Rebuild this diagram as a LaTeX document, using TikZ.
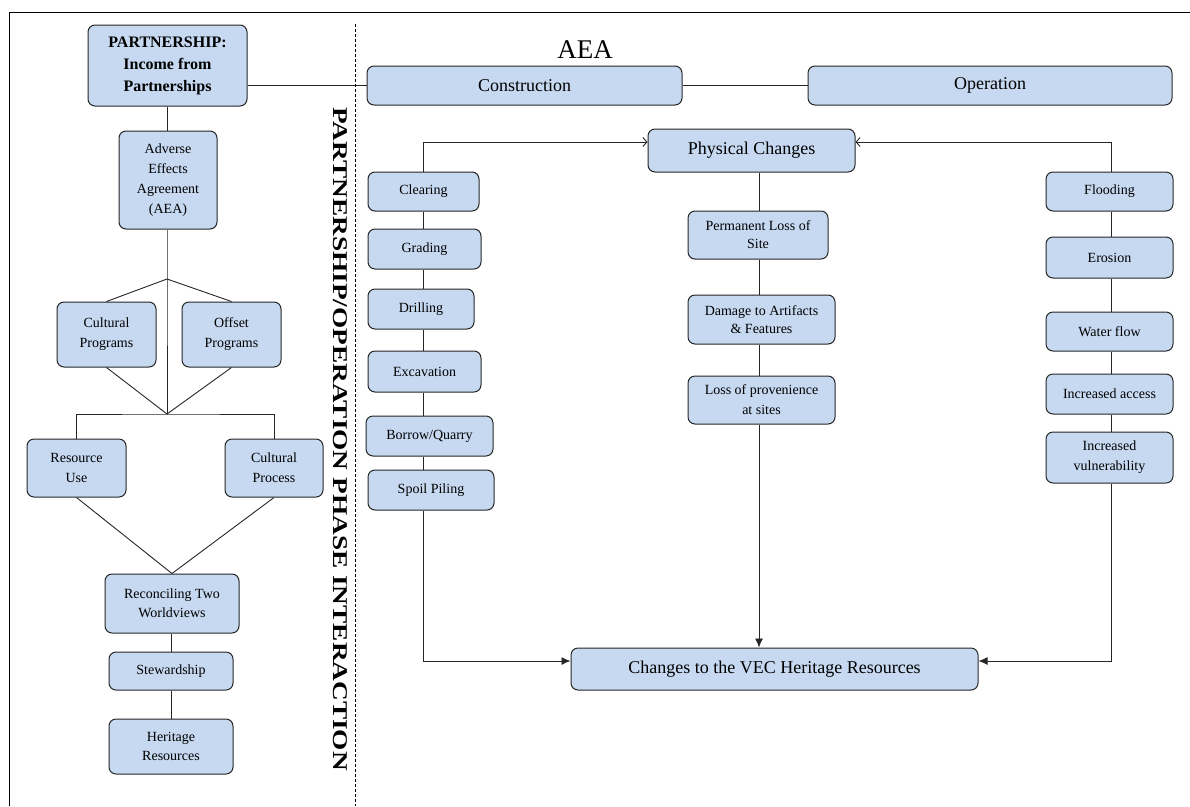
\documentclass[tikz,border=0pt]{standalone}
\usepackage{fontspec}
\setmainfont{Liberation Serif}
\usetikzlibrary{arrows.meta,backgrounds}
\definecolor{boxblue}{HTML}{C6D9F1}
\tikzset{
  box/.style={draw=black!85, fill=boxblue, line width=1pt, rounded corners=7pt,
    inner sep=0pt, align=center, font=\fontsize{14}{19}\selectfont},
  bigbox/.style={box, font=\fontsize{18}{22}\selectfont},
  conn/.style={line width=0.9pt, draw=black!85},
  openarr/.style={conn, -{Straight Barb[length=4pt,width=9pt]}},
  fillarr/.style={conn, -{Latex[length=9pt,width=8pt]}},
}
\begin{document}
\begin{tikzpicture}[x=1pt,y=-1pt]
\useasboundingbox (0,0) rectangle (1190,806);
% frame
\draw[line width=1pt] (9,806) -- (9,12) -- (1190,12);
\draw[dashed, line width=0.8pt, dash pattern=on 3pt off 2pt] (355,24) -- (355,806);
% rotated title
\node[rotate=-90, font=\bfseries\fontsize{21}{21}\selectfont] (title) at (340,439)
  {\scalebox{1.3}[1]{PARTNERSHIP/OPERATION PHASE INTERACTION}};
% left column
\node[box, font=\bfseries\fontsize{16}{22}\selectfont, minimum width=159pt, minimum height=81pt] (partner) at (167.5,65.5) {PARTNERSHIP:\\Income from\\Partnerships};
\node[box, minimum width=98pt, minimum height=98pt, font=\fontsize{14}{20}\selectfont] (aea) at (168,180) {Adverse\\Effects\\Agreement\\(AEA)};
\node[box, minimum width=99pt, minimum height=65pt, font=\fontsize{14}{20}\selectfont] (culprog) at (106.5,334.5) {Cultural\\Programs};
\node[box, minimum width=99pt, minimum height=65pt, font=\fontsize{14}{20}\selectfont] (offset) at (231.5,334.5) {Offset\\Programs};
\node[box, minimum width=99pt, minimum height=58pt, font=\fontsize{14}{20}\selectfont] (resuse) at (76.5,468) {Resource\\Use};
\node[box, minimum width=98pt, minimum height=58pt, font=\fontsize{14}{20}\selectfont] (culproc) at (274,468) {Cultural\\Process};
\node[box, minimum width=134pt, minimum height=59pt] (recon) at (172,603.5) {Reconciling Two\\Worldviews};
\node[box, minimum width=124pt, minimum height=38pt] (stew) at (171,671) {Stewardship};
\node[box, minimum width=124pt, minimum height=55pt] (herit) at (171,746.5) {Heritage\\Resources};
% right: header
\node[font=\fontsize{27}{27}\selectfont] (aeatitle) at (585,50) {AEA};
\node[bigbox, minimum width=315pt, minimum height=39pt] (constr) at (524.5,85.5) {Construction};
\node[bigbox, minimum width=364pt, minimum height=39pt] (oper) at (990,85.5) {Operation};
\node[bigbox, minimum width=207pt, minimum height=43pt] (phys) at (751.5,150.5) {Physical Changes};
% construction column
\node[box, minimum width=111pt, minimum height=39pt] (clear) at (423.5,191.5) {Clearing};
\node[box, minimum width=113pt, minimum height=40pt] (grad) at (424.5,249) {Grading};
\node[box, minimum width=106pt, minimum height=40pt] (drill) at (421,309) {Drilling};
\node[box, minimum width=113pt, minimum height=41pt] (excav) at (424.5,371.5) {Excavation};
\node[box, minimum width=127pt, minimum height=40pt] (borrow) at (429.5,436) {Borrow/Quarry};
\node[box, minimum width=126pt, minimum height=40pt] (spoil) at (431,490) {Spoil Piling};
% middle column
\node[box, minimum width=140pt, minimum height=48pt, font=\fontsize{14}{18}\selectfont] (perm) at (758,235) {Permanent Loss of\\Site};
\node[box, minimum width=147pt, minimum height=49pt, font=\fontsize{14}{18}\selectfont] (damage) at (761.5,319.5) {Damage to Artifacts\\\& Features};
\node[box, minimum width=147pt, minimum height=48pt, font=\fontsize{14}{20}\selectfont] (lossprov) at (761.5,400) {Loss of provenience\\at sites};
% operation column
\node[box, minimum width=127pt, minimum height=39pt] (flood) at (1109.5,191.5) {Flooding};
\node[box, minimum width=127pt, minimum height=41pt] (eros) at (1109.5,257.5) {Erosion};
\node[box, minimum width=127pt, minimum height=39pt] (water) at (1109.5,331.5) {Water flow};
\node[box, minimum width=127pt, minimum height=40pt] (access) at (1109.5,394) {Increased access};
\node[box, minimum width=127pt, minimum height=51pt, font=\fontsize{14}{20}\selectfont] (vuln) at (1109.5,457.5) {Increased\\vulnerability};
% bottom
\node[bigbox, minimum width=407pt, minimum height=42pt] (changes) at (774.5,669) {Changes to the VEC Heritage Resources};
% helper coordinates
\coordinate (j1) at (167,279);
\coordinate (j2) at (167,414);
\coordinate (cx) at (423,0);
\coordinate (mx) at (759,0);
\coordinate (rx) at (1111,0);
% connectors
\begin{scope}[on background layer]
\draw[conn] (partner.south) -- (aea.north -| partner.south);
\draw[conn] (constr.west -| partner.east) -- (constr.west);
\draw[conn] (constr.east) -- (oper.west);
\draw[conn] (aea.south -| j1) -- (j1) -- (j2);
\draw[conn] (j1) -- (culprog.north);
\draw[conn] (j1) -- (offset.north);
\draw[conn] (culprog.south) -- (j2);
\draw[conn] (offset.south) -- (j2);
\draw[conn] (resuse.north) |- (j2) -| (culproc.north);
\draw[conn] (resuse.south) -- (recon.north);
\draw[conn] (culproc.south) -- (recon.north);
\draw[conn] (recon.south -| stew.north) -- (stew.north);
\draw[conn] (stew.south) -- (herit.north);
% construction chain
\draw[openarr] (clear.north -| cx) |- ([yshift=8.5pt]phys.west);
\draw[conn] (clear.south -| cx) -- (grad.north -| cx);
\draw[conn] (grad.south -| cx) -- (drill.north -| cx);
\draw[conn] (drill.south -| cx) -- (excav.north -| cx);
\draw[conn] (excav.south -| cx) -- (borrow.north -| cx);
\draw[conn] (borrow.south -| cx) -- (spoil.north -| cx);
\draw[fillarr] (spoil.south -| cx) |- ([yshift=8pt]changes.west);
% middle chain
\draw[conn] (phys.south -| mx) -- (perm.north -| mx);
\draw[conn] (perm.south -| mx) -- (damage.north -| mx);
\draw[conn] (damage.south -| mx) -- (lossprov.north -| mx);
\draw[fillarr] (lossprov.south -| mx) -- (changes.north -| mx);
% operation chain
\draw[openarr] (flood.north -| rx) |- ([yshift=8.5pt]phys.east);
\draw[conn] (flood.south -| rx) -- (eros.north -| rx);
\draw[conn] (eros.south -| rx) -- (water.north -| rx);
\draw[conn] (water.south -| rx) -- (access.north -| rx);
\draw[conn] (access.south -| rx) -- (vuln.north -| rx);
\draw[fillarr] (vuln.south -| rx) |- ([yshift=8pt]changes.east);
\end{scope}
\end{tikzpicture}
\end{document}
